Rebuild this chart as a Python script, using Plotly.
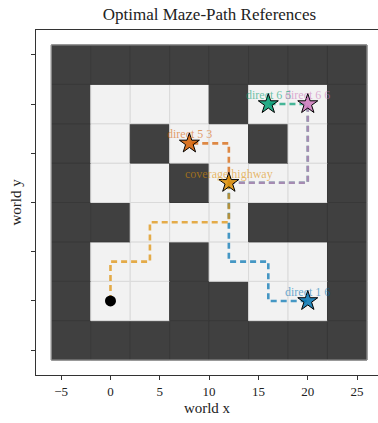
import plotly.graph_objects as go

# Maze (rows from bottom r=0 -> top r=7; 1 = wall, 0 = free)
maze_rows = [
    [1, 1, 1, 1, 1, 1, 1, 1],  # r=0 (y=-4)
    [1, 0, 0, 1, 1, 0, 0, 1],  # r=1 (y=0)
    [1, 0, 0, 1, 0, 0, 0, 1],  # r=2 (y=4)
    [1, 1, 0, 0, 0, 1, 1, 1],  # r=3 (y=8)
    [1, 0, 0, 1, 0, 0, 0, 1],  # r=4 (y=12)
    [1, 0, 1, 0, 0, 1, 0, 1],  # r=5 (y=16)
    [1, 0, 0, 0, 1, 0, 0, 1],  # r=6 (y=20)
    [1, 1, 1, 1, 1, 1, 1, 1],  # r=7 (y=24)
]
cell_size = 4
origin = -4  # center of cell (0,0)

start_point = (0, 0)

path_names = ["coverage highway", "direct 1 6", "direct 5 3", "direct 6 5", "direct 6 6"]
path_x = [
    [0, 0, 4, 4, 12, 12],
    [12, 12, 12, 16, 16, 20],
    [12, 12, 8],
    [12, 20, 20, 16],
    [12, 20, 20],
]
path_y = [
    [0, 4, 4, 8, 8, 12],
    [12, 8, 4, 4, 0, 0],
    [12, 16, 16],
    [12, 12, 20, 20],
    [12, 12, 20],
]
path_colors = ["#de8f05", "#0173b2", "#d55e00", "#029e73", "#cc78bc"]
draw_order = [1, 2, 3, 4, 0]

x_ticks = [-5, 0, 5, 10, 15, 20, 25]
y_ticks = [-5, 0, 5, 10, 15, 20, 25]


def rgba(hex_color, a):
    h = hex_color.lstrip("#")
    r, g, b = int(h[0:2], 16), int(h[2:4], 16), int(h[4:6], 16)
    return f"rgba({r},{g},{b},{a})"


FONT = "Liberation Serif"
fig = go.Figure()

shapes = []
for r, row in enumerate(maze_rows):
    for c, v in enumerate(row):
        cx = origin + c * cell_size
        cy = origin + r * cell_size
        shapes.append(dict(
            type="rect", xref="x", yref="y", layer="below",
            x0=cx - cell_size / 2, x1=cx + cell_size / 2,
            y0=cy - cell_size / 2, y1=cy + cell_size / 2,
            fillcolor="#404040" if v else "#f2f2f2",
            line=dict(color="#383838" if v else "#dadada", width=1),
        ))
# outer border of grid
n = len(maze_rows)
shapes.append(dict(
    type="rect", xref="x", yref="y", layer="below",
    x0=origin - cell_size / 2, x1=origin + (n - 0.5) * cell_size,
    y0=origin - cell_size / 2, y1=origin + (n - 0.5) * cell_size,
    fillcolor="rgba(0,0,0,0)", line=dict(color="#9a9a9a", width=1),
))

for i in draw_order:
    fig.add_trace(go.Scatter(
        x=path_x[i], y=path_y[i], mode="lines",
        line=dict(color=rgba(path_colors[i], 0.72), width=2.6, dash="6px,4px"),
        hoverinfo="skip", showlegend=False,
    ))

fig.add_trace(go.Scatter(
    x=[start_point[0]], y=[start_point[1]], mode="markers",
    marker=dict(color="black", size=11), showlegend=False,
))

for i in range(len(path_names)):
    fig.add_trace(go.Scatter(
        x=[path_x[i][-1]], y=[path_y[i][-1]], mode="markers",
        marker=dict(symbol="star", size=15, color=rgba(path_colors[i], 0.85),
                    line=dict(color="black", width=1)),
        showlegend=False,
    ))

annotations = []
for i, name in enumerate(path_names):
    annotations.append(dict(
        x=path_x[i][-1], y=path_y[i][-1], xref="x", yref="y",
        text=name, showarrow=False, yshift=9,
        font=dict(family=FONT, size=12, color=rgba(path_colors[i], 0.6)),
    ))

fig.update_layout(
    width=378, height=423,
    margin=dict(l=36, r=0, t=30, b=48),
    paper_bgcolor="white", plot_bgcolor="white",
    shapes=shapes, annotations=annotations,
    title=dict(text="Optimal Maze-Path References", xref="paper", x=0.507,
               xanchor="center", yref="container", y=0.966, yanchor="middle",
               font=dict(family=FONT, size=17, color="#222")),
    font=dict(family=FONT, color="#222"),
)
fig.update_xaxes(
    range=[-7.55, 27.12], tickvals=x_ticks, automargin=False,
    ticktext=[("\u2212" + str(-t)) if t < 0 else str(t) for t in x_ticks],
    showgrid=False, zeroline=False, showline=True, mirror=True,
    linecolor="#333", linewidth=1.2, ticks="outside", ticklen=4, tickcolor="#333",
    tickfont=dict(family=FONT, size=13, color="#222"),
    title=dict(text="world x", font=dict(family=FONT, size=15, color="#222"), standoff=4),
)
fig.update_yaxes(
    range=[-7.52, 27.52], tickvals=y_ticks, showticklabels=False, automargin=False,
    showgrid=False, zeroline=False, showline=True, mirror=False,
    linecolor="#333", linewidth=1.2, ticks="outside", ticklen=4, tickcolor="#333",
    title=dict(text="world y", font=dict(family=FONT, size=15, color="#222"), standoff=5),
)

fig.write_html("out.html", config={"displayModeBar": False},
               post_script="document.body.style.margin='0px';")
